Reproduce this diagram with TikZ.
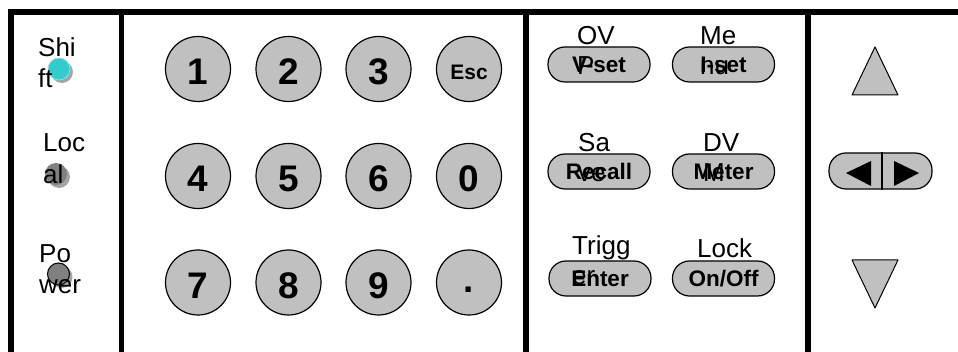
\documentclass[tikz,border=0pt]{standalone}
\usepackage{fontspec}
\setmainfont{Liberation Sans}
\definecolor{keygray}{RGB}{192,192,192}
\definecolor{ledcyan}{RGB}{51,204,204}
\definecolor{ledcyanrim}{RGB}{140,228,228}
\definecolor{ledgray}{RGB}{128,128,128}
\definecolor{shadowgray}{RGB}{165,165,165}
\tikzset{
 frameline/.style={line width=5.5pt},
 key/.style={circle, draw=black, line width=1.2pt, fill=keygray, minimum size=65pt, inner sep=0pt},
 digit/.style={font=\fontsize{37}{40}\selectfont\bfseries, inner sep=0pt, anchor=base},
 esctext/.style={font=\fontsize{21}{24}\selectfont\bfseries, inner sep=0pt, anchor=base},
 pill/.style={rectangle, rounded corners=17pt, draw=black, line width=1.2pt, fill=keygray,
   minimum width=102pt, minimum height=35pt, inner sep=0pt, text height=16pt, text depth=0pt,
   font=\fontsize{22.5}{25}\selectfont\bfseries},
 lbl/.style={anchor=base west, inner sep=0pt, font=\fontsize{26}{31}\selectfont},
 led/.style={circle, minimum size=22pt, inner sep=0pt},
 tri/.style={draw=black, line width=1pt, fill=keygray, line join=round},
}
\begin{document}
\begin{tikzpicture}[x=1pt,y=-1pt]
\useasboundingbox (0,0) rectangle (958,352);
% frame
\draw[frameline] (11,352) -- (11,12) -- (958,12);
\draw[frameline] (121.5,12) -- (121.5,352);
\draw[frameline] (526,12) -- (526,352);
\draw[frameline] (808,12) -- (808,352);
% LEDs
\node[led, fill=shadowgray] (shiftsh) at (62,72) {};
\node[led, fill=ledcyan, draw=ledcyanrim, line width=0.8pt] (shiftled) at (59,69) {};
\node[led, fill=shadowgray] (localsh) at (59,177) {};
\node[led, fill=ledgray] (localled) at (56,174) {};
\node[led, fill=shadowgray] (powersh) at (61.5,277) {};
\node[led, fill=ledgray, draw=black, line width=1pt] (powerled) at (58.5,274) {};
\node[lbl] (shiftA) at (38,57) {Shi};
\node[lbl] (shiftB) at (38,88) {ft};
\node[lbl] (localA) at (43,152) {Loc};
\node[lbl] (localB) at (43,184) {al};
\node[lbl] (powerA) at (39,263) {Po};
\node[lbl] (powerB) at (39,294) {wer};
% keypad
\foreach \t/\x/\y/\n in {1/198/69/k1, 2/288.5/69/k2, 3/378.5/69/k3,
                          4/198/176/k4, 5/288.5/176/k5, 6/378.5/176/k6, 0/469/176/k0,
                          7/198/282.5/k7, 8/288.5/282.5/k8, 9/378.5/282.5/k9}{
  \node[key] (\n) at (\x,\y) {};
  \node[digit] (t\n) at ([yshift=-16pt]\n.center) {\t};
}
\node[key] (kesc) at (469,69) {};
\node[esctext] (tesc) at ([yshift=-11pt]kesc.center) {Esc};
\node[key] (kdot) at (469,282.5) {};
\node[digit] (tdot) at ([yshift=-10.5pt]kdot.center) {.};
% function buttons
\node[pill] (vset) at (599,64.5) {V-set};
\node[pill] (iset) at (723.5,64.5) {I-set};
\node[pill] (recall) at (599,171.5) {Recall};
\node[pill] (meter) at (723.5,171.5) {Meter};
\node[pill] (enter) at (600,278.5) {Enter};
\node[pill] (onoff) at (723.5,278.5) {On/Off};
\node[lbl] (ovA) at (577,45) {OV};
\node[lbl] (ovB) at (577,75) {P};
\node[lbl] (meA) at (700,45) {Me};
\node[lbl] (meB) at (700,75) {nu};
\node[lbl] (saA) at (578,152) {Sa};
\node[lbl] (saB) at (578,182) {ve};
\node[lbl] (dvA) at (703,152) {DV};
\node[lbl] (dvB) at (703,182) {M};
\node[lbl] (trA) at (572,255) {Trigg};
\node[lbl] (trB) at (572,285) {er};
\node[lbl] (lock) at (697,258) {Lock};
% arrows panel
\draw[tri] (875,47) -- (898,95) -- (852,95) -- cycle;
\draw[tri] (852,260) -- (898,260) -- (875,308) -- cycle;
\node[pill, minimum width=103pt, minimum height=36pt] (lr) at (880.5,171) {};
\draw[line width=1.2pt] ([xshift=1.5pt]lr.north) -- ([xshift=1.5pt]lr.south);
\fill[black] (846,173) -- (871,161) -- (871,186) -- cycle;
\fill[black] (919,173) -- (894,161) -- (894,186) -- cycle;
\end{tikzpicture}
\end{document}
